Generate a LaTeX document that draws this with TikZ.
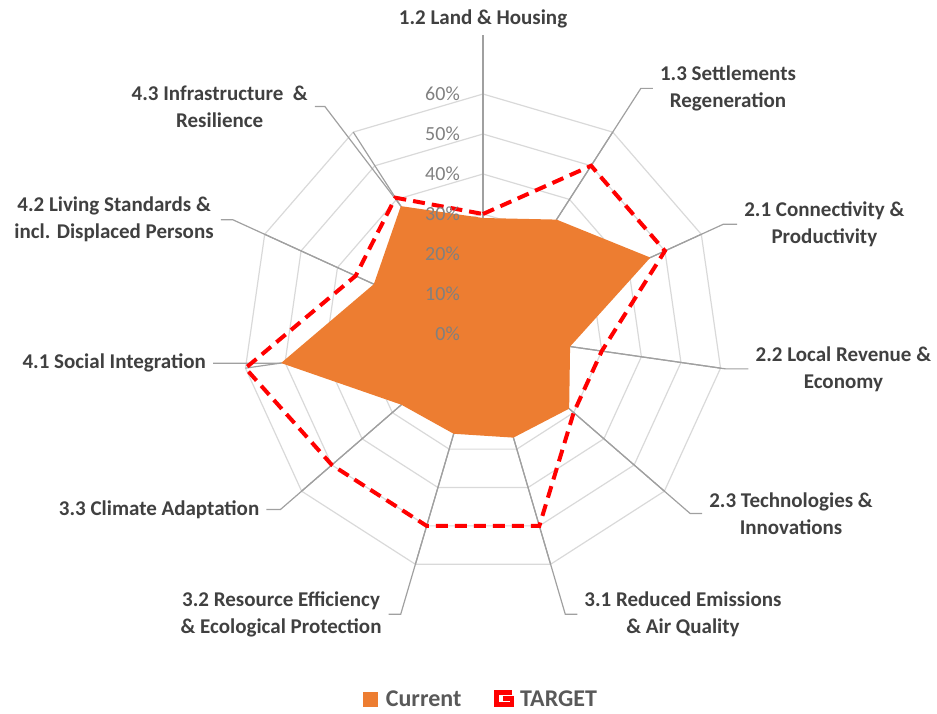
\documentclass[tikz,border=0pt]{standalone}
\usepackage{fontspec}
\setmainfont{Carlito}
\usetikzlibrary{positioning}

\definecolor{curorange}{HTML}{ED7D31}
\definecolor{spokegray}{HTML}{A0A0A0}
\definecolor{ringgray}{HTML}{D9D9D9}
\definecolor{labelgray}{HTML}{404040}
\definecolor{tickgray}{HTML}{808080}
\definecolor{legendgray}{HTML}{595959}

\begin{document}
\begin{tikzpicture}[x=1pt, y=1pt,
ring/.style={ringgray, line width=1.2pt},
spoke/.style={spokegray, line width=1.2pt},
target/.style={red, line width=4pt, dash pattern=on 12pt off 7pt},
catlabel/.style={font=\fontsize{21}{27}\selectfont\bfseries, text=labelgray, align=center, inner sep=7pt},
ticklabel/.style={font=\fontsize{20}{24}\selectfont, text=tickgray, anchor=east, inner sep=0pt},
legendtext/.style={font=\fontsize{24}{28}\selectfont\bfseries, text=legendgray, inner sep=0pt}]

\useasboundingbox (-483,-379) rectangle (454,334);

% grid
\foreach \r in {40,80,...,240}
\draw[ring] (90:\r) \foreach \k in {1,...,10} { -- ({90-\k*360/11}:\r) } -- cycle;
\foreach \k in {0,...,10}
\draw[spoke] (0,0) -- ({90-\k*360/11}:240);

% series values (percent) and leader bends
\foreach \v [count=\i from 0] in {29,34,46,22,28.5,27,26,27,51,30,38}
\coordinate (c\i) at ({90-\i*360/11}:{4*\v});
\foreach \v [count=\i from 0] in {30,50,50,30,30,50,50,50,60,35,40.5}
\coordinate (t\i) at ({90-\i*360/11}:{4*\v});
\foreach \R [count=\i from 0] in {299,292,264,245,274,292,292,268,205,275}
\coordinate (b\i) at ({90-\i*360/11}:\R);
\coordinate (b10) at (124.8:277);

% category labels
\node[catlabel, anchor=south] (l0) at (b0) {1.2 Land \& Housing};
\node[catlabel, anchor=west] (l1) at ([xshift=12]b1) {1.3 Settlements\\Regeneration};
\node[catlabel, anchor=west] (l2) at ([xshift=14]b2) {2.1 Connectivity \&\\Productivity};
\node[catlabel, anchor=west] (l3) at ([xshift=23]b3) {2.2 Local Revenue \&\\Economy};
\node[catlabel, anchor=west] (l4) at ([xshift=12]b4) {2.3 Technologies \&\\Innovations};
\node[catlabel, anchor=west] (l5) at ([xshift=12]b5) {3.1 Reduced Emissions\\\& Air Quality};
\node[catlabel, anchor=east] (l6) at ([xshift=-12]b6) {3.2 Resource Efficiency\\\& Ecological Protection};
\node[catlabel, anchor=east] (l7) at ([xshift=-14]b7) {3.3 Climate Adaptation};
\node[catlabel, anchor=east] (l8) at ([xshift=-67]b8) {4.1 Social Integration};
\node[catlabel, anchor=east] (l9) at ([xshift=-12]b9) {4.2 Living Standards \&\\incl. Displaced Persons};
\node[catlabel, anchor=east] (l10) at ([xshift=-10]b10) {4.3 Infrastructure~~\&\\Resilience};

% leader lines
\draw[spoke] (c0) -- (l0);
\foreach \i in {1,...,10}
\draw[spoke] (c\i) -- (b\i) -- (l\i);

% current
\fill[curorange] (c0) \foreach \i in {1,...,10} { -- (c\i) } -- cycle;

% target
\draw[target] (t0) \foreach \i in {1,...,10} { -- (t\i) } -- cycle;

% value axis
\foreach \p in {0,10,...,60}
\node[ticklabel] (tick\p) at (-23,{4*\p}) {\p\%};

% legend
\node[fill=curorange, minimum size=15pt, inner sep=0pt] (curkey) at (-112,-365) {};
\node[legendtext, right=7pt of curkey] (curtext) {Current};
\draw[red, line width=4.5pt] (29,-358.5) -- (13.5,-358.5) -- (13.5,-370.5) -- (29,-370.5) -- (29,-364.5) -- (20,-364.5);
\coordinate (tgtkey) at (31,-365);
\node[legendtext, right=6pt of tgtkey] (tgttext) {TARGET};

\end{tikzpicture}
\end{document}
